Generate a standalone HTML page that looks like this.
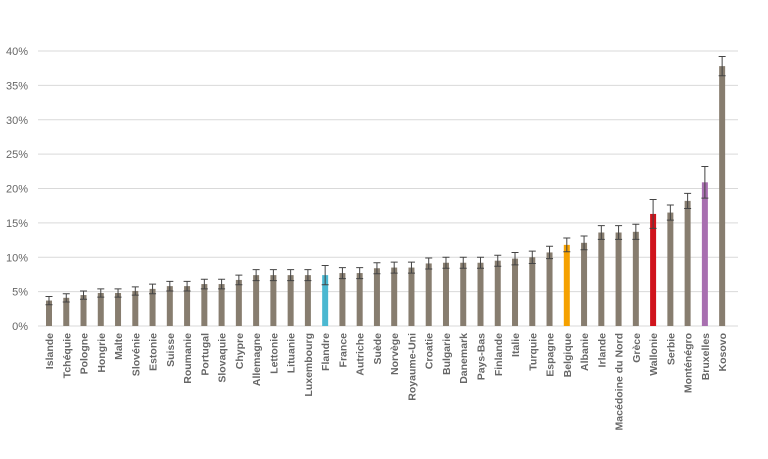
<!DOCTYPE html>
<html><head><meta charset="utf-8"><style>
body{margin:0;background:#fff;}
svg{display:block;font-family:"Liberation Sans",sans-serif;}
</style></head><body>
<svg id="chart" width="768" height="459" viewBox="0 0 768 459"></svg>
<script>
const categories=["Islande","Tchéquie","Pologne","Hongrie","Malte","Slovénie","Estonie","Suisse","Roumanie","Portugal","Slovaquie","Chypre","Allemagne","Lettonie","Lituanie","Luxembourg","Flandre","France","Autriche","Suède","Norvège","Royaume-Uni","Croatie","Bulgarie","Danemark","Pays-Bas","Finlande","Italie","Turquie","Espagne","Belgique","Albanie","Irlande","Macédoine du Nord","Grèce","Wallonie","Serbie","Monténégro","Bruxelles","Kosovo"];
const values=[3.7,4.1,4.5,4.8,4.8,5.1,5.4,5.8,5.8,6.1,6.1,6.7,7.4,7.4,7.4,7.4,7.4,7.7,7.7,8.4,8.5,8.5,9.1,9.2,9.2,9.2,9.5,9.8,10.0,10.7,11.8,12.1,13.6,13.6,13.7,16.3,16.5,18.2,20.9,37.8];
const errors=[0.6,0.6,0.6,0.6,0.6,0.6,0.7,0.7,0.7,0.7,0.7,0.7,0.8,0.8,0.8,0.8,1.4,0.8,0.8,0.8,0.8,0.8,0.8,0.8,0.8,0.8,0.8,0.9,0.9,0.9,1.0,1.0,1.0,1.0,1.1,2.1,1.1,1.1,2.3,1.4];
const highlight={"Flandre":"#4bb8d1","Belgique":"#f5a100","Wallonie":"#d0141c","Bruxelles":"#a86fb0"};
const yTicks=[0,5,10,15,20,25,30,35,40];
const svg=document.getElementById('chart');
const NS="http://www.w3.org/2000/svg";
const y0=326,pxPer=6.875,x0=49,step=17.26,bw=6;
const yScale=v=>y0-v*pxPer;
const xScale=i=>x0+i*step;
function mk(t,a){const e=document.createElementNS(NS,t);for(const k in a)e.setAttribute(k,a[k]);svg.appendChild(e);return e;}
yTicks.forEach(t=>{
 const g=mk('line',{x1:38,x2:738,y1:yScale(t),y2:yScale(t),stroke:'#d9d9d9','stroke-width':1});
 
 
 const l=mk('text',{x:28,y:yScale(t)+4,'text-anchor':'end','font-size':11,fill:'#666'});
 l.textContent=t+'%';
 
 
});
categories.forEach((c,i)=>{
 const x=xScale(i),v=values[i],e=errors[i];
 const r=mk('rect',{x:x-bw/2,y:yScale(v),width:bw,height:y0-yScale(v),fill:highlight[c]||'#877d6f'});
 
 
 const p=mk('path',{d:`M${x},${yScale(v+e)}V${yScale(v-e)}M${x-3.5},${yScale(v+e)}h7M${x-3.5},${yScale(v-e)}h7`,stroke:'#444','stroke-width':1,fill:'none'});
 
 
 const t=mk('text',{transform:`translate(${x+4},333) rotate(-90)`,'text-anchor':'end','font-size':10.5,'font-weight':'bold',fill:'#666'});
 t.textContent=c;
 
 
});
</script>
</body></html>
